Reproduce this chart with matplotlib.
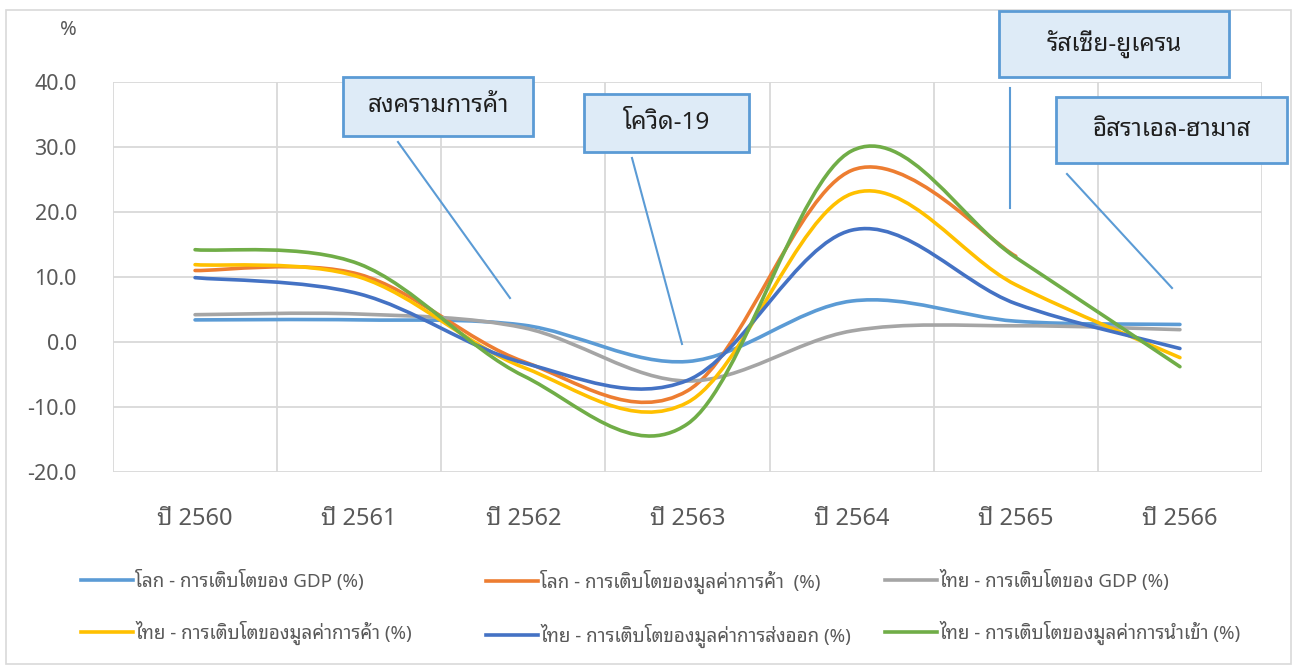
import matplotlib
matplotlib.use("Agg")
import matplotlib.pyplot as plt
from matplotlib.path import Path
from matplotlib.patches import PathPatch, Rectangle
from matplotlib.lines import Line2D

# ---- data ----
categories = ["ปี 2560", "ปี 2561", "ปี 2562", "ปี 2563", "ปี 2564", "ปี 2565", "ปี 2566"]
world_gdp = [3.4, 3.4, 2.6, -3.0, 6.3, 3.2, 2.7]
world_trade = [11.0, 10.4, -3.0, -7.5, 26.4, 13.2, None]
thai_gdp = [4.2, 4.3, 2.2, -6.0, 1.7, 2.5, 1.9]
thai_trade = [11.9, 10.0, -3.9, -9.3, 22.8, 8.8, -2.4]
thai_exports = [9.9, 7.4, -3.2, -5.9, 17.2, 5.9, -1.0]
thai_imports = [14.2, 12.0, -5.2, -12.6, 29.4, 13.0, -3.8]
series_names = [
    "โลก - การเติบโตของ GDP (%)",
    "โลก - การเติบโตของมูลค่าการค้า  (%)",
    "ไทย - การเติบโตของ GDP (%)",
    "ไทย - การเติบโตของมูลค่าการค้า (%)",
    "ไทย - การเติบโตของมูลค่าการส่งออก (%)",
    "ไทย - การเติบโตของมูลค่าการนำเข้า (%)",
]
events = ["สงครามการค้า", "โควิด-19", "รัสเซีย-ยูเครน", "อิสราเอล-ฮามาส"]
yticks = [-20, -10, 0, 10, 20, 30, 40]

plt.rcParams["font.family"] = ["Noto Sans Thai Looped", "Open Sans", "DejaVu Sans"]

colors = ["#5B9BD5", "#ED7D31", "#A5A5A5", "#FFC000", "#4472C4", "#70AD47"]
all_series = [world_gdp, world_trade, thai_gdp, thai_trade, thai_exports, thai_imports]

W, H = 1293, 668
fig = plt.figure(figsize=(W/100, H/100), dpi=100)
ax = fig.add_axes([113/W, 1-472/H, (1262-113)/W, (472-82)/H])

def fx(px):
    return px / W

def fy(py):
    return 1 - py / H

def smooth_path(xs, ys):
    pts = list(zip(xs, ys))
    n = len(pts)
    verts = [pts[0]]
    codes = [Path.MOVETO]
    for i in range(n-1):
        p0 = pts[i-1] if i > 0 else pts[i]
        p1 = pts[i]
        p2 = pts[i+1]
        p3 = pts[i+2] if i+2 < n else pts[i+1]
        c1 = (p1[0] + (p2[0]-p0[0])/6, p1[1] + (p2[1]-p0[1])/6)
        c2 = (p2[0] - (p3[0]-p1[0])/6, p2[1] - (p3[1]-p1[1])/6)
        verts += [c1, c2, p2]
        codes += [Path.CURVE4]*3
    return Path(verts, codes)

for vals, c in zip(all_series, colors):
    xs = [i for i, v in enumerate(vals) if v is not None]
    ys = [v for v in vals if v is not None]
    ax.add_patch(PathPatch(smooth_path(xs, ys), fill=False, edgecolor=c, lw=2.6,
                           capstyle="round", joinstyle="round", zorder=3))

ax.set_xlim(-0.5, 6.5)
ax.set_ylim(-20, 40)
ax.set_yticks(yticks)
ax.set_yticklabels([f"{v:.1f}" for v in yticks])
ax.set_xticks(range(len(categories)))
ax.set_xticklabels(categories)
ax.set_xticks([i + 0.5 for i in range(-1, 7)], minor=True)
ax.grid(True, which="major", axis="y", color="#D9D9D9", lw=1.3)
ax.grid(True, which="minor", axis="x", color="#D9D9D9", lw=1.3)
ax.tick_params(which="both", length=0)
ax.tick_params(axis="y", pad=26, labelsize=15.5, labelcolor="#595959")
ax.tick_params(axis="x", pad=25, labelsize=17, labelcolor="#595959")
for s in ax.spines.values():
    s.set_visible(False)
ax.set_axisbelow(True)

fig.text(fx(68), fy(30), "%", ha="center", va="center", fontsize=14.5, color="#595959")

# outer border
fig.add_artist(Rectangle((fx(6), fy(664)), (1291-6)/W, (664-10)/H, transform=fig.transFigure,
                         fill=False, edgecolor="#D9D9D9", lw=1.2))

# callouts: (text, box left/top/right/bottom px, line start px, line end px)
callouts = [
    (events[0], (343, 77, 533, 136), (398, 142), (510, 298)),
    (events[1], (584, 94, 749, 152), (632, 158), (682, 344)),
    (events[2], (999, 11, 1229, 77), (1010, 88), (1010, 208)),
    (events[3], (1056, 97, 1287, 163), (1067, 174), (1172, 288)),
]
for txt, (l, t, r, b), (x1, y1), (x2, y2) in callouts:
    fig.add_artist(Line2D([fx(x1), fx(x2)], [fy(y1), fy(y2)], transform=fig.transFigure,
                          color="#5B9BD5", lw=1.5))
    fig.add_artist(Rectangle((fx(l), fy(b)), (r-l)/W, (b-t)/H, transform=fig.transFigure,
                             facecolor="#DEEBF7", edgecolor="#5B9BD5", lw=2))
    fig.text(fx((l+r)/2), fy((t+b)/2), txt, ha="center", va="center", fontsize=17.5, color="#1F1F1F")

# legend columns
handles = [Line2D([], [], color=c, lw=2.6) for c in colors]
col_x = [82, 487, 886]
for k in range(3):
    idx = [k, k+3]
    fig.legend([handles[i] for i in idx], [series_names[i] for i in idx],
               loc="upper left", bbox_to_anchor=(fx(col_x[k] - 5), fy(566)),
               frameon=False, fontsize=13.5, labelcolor="#595959", handlelength=2.8,
               handletextpad=0.1, labelspacing=1.6, borderpad=0.2, borderaxespad=0)

fig.savefig("out.png", dpi=100)
